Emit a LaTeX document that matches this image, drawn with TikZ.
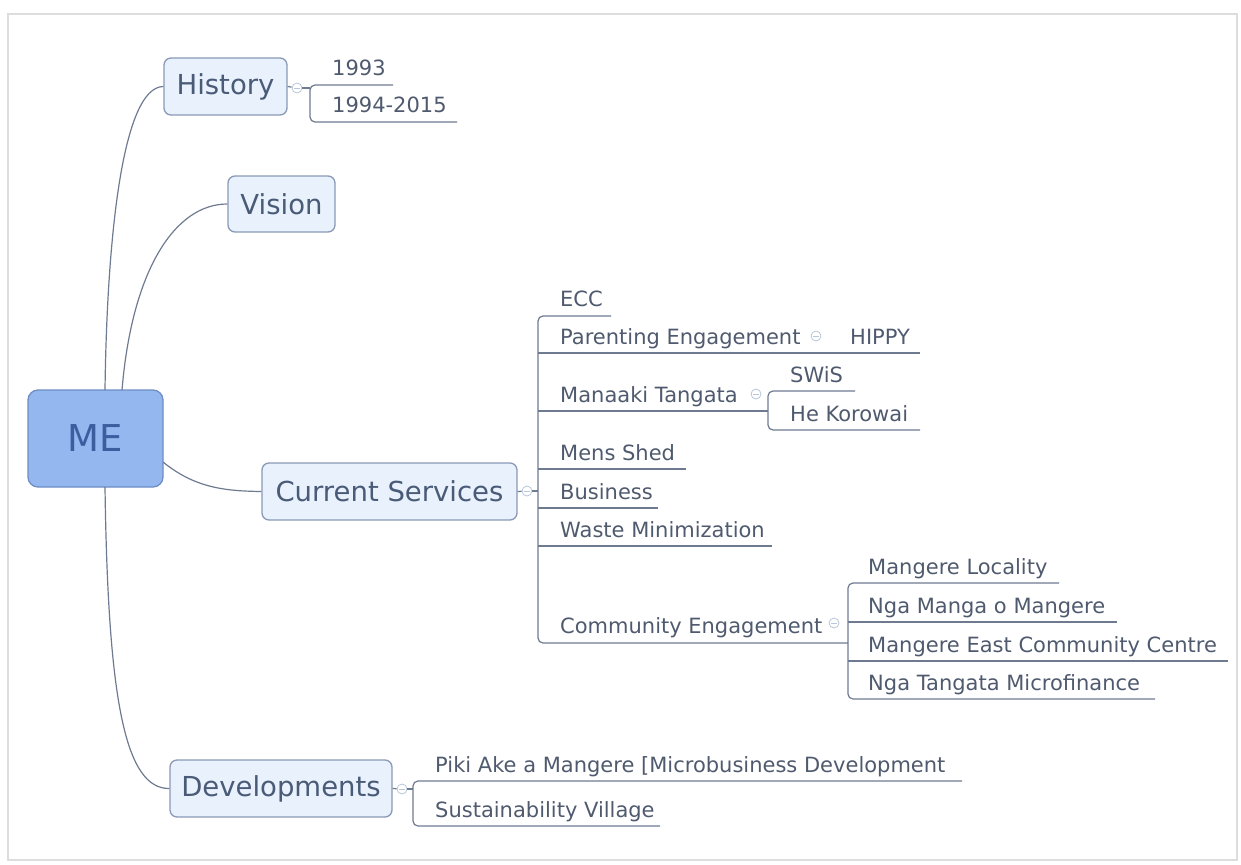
\documentclass[tikz,border=0pt]{standalone}
\usepackage{fontspec}
\setmainfont{DejaVu Sans}
\definecolor{txt}{HTML}{4F5A6E}
\definecolor{maintxt}{HTML}{4A5B78}
\definecolor{metxt}{HTML}{3D5E9E}
\definecolor{boxfill}{HTML}{E8F1FC}
\definecolor{boxdraw}{HTML}{8A99B6}
\definecolor{mefill}{HTML}{94B7F0}
\definecolor{medraw}{HTML}{6F8DC4}
\definecolor{linec}{HTML}{6E7A90}
\definecolor{foldc}{HTML}{B8C6DA}
\definecolor{framec}{HTML}{DDDDDD}
\begin{document}
\begin{tikzpicture}[x=1pt,y=-1pt,
  mainbox/.style={draw=boxdraw, fill=boxfill, line width=1.3pt, rounded corners=7pt,
    text=maintxt, font=\fontsize{27.5}{33}\selectfont, inner sep=0pt},
  mebox/.style={draw=medraw, fill=mefill, line width=1.3pt, rounded corners=10pt,
    text=metxt, font=\fontsize{37}{44}\selectfont, inner sep=0pt,
    minimum width=135pt, minimum height=97pt},
  leaf/.style={anchor=base west, text=txt, font=\fontsize{21}{25}\selectfont, inner sep=0pt},
  link/.style={draw=linec, line width=1.2pt},
  spine/.style={link, rounded corners=5pt},
  fold/.style={circle, draw=foldc, line width=0.8pt, minimum size=10pt, inner sep=0pt, fill=white,
    path picture={\draw[foldc, line width=0.8pt] ([xshift=-3pt]path picture bounding box.center) -- ([xshift=3pt]path picture bounding box.center);}}
]
\useasboundingbox (0,0) rectangle (1241,864);
\draw[framec, line width=1.5pt] (8,14) rectangle (1237,860);

% main nodes
\node[mebox] (me) at (95.5,438.5) {ME};
\node[mainbox, minimum width=123pt, minimum height=57pt] (history) at (225.5,86.5) {History};
\node[mainbox, minimum width=107pt, minimum height=56pt] (vision) at (281.5,204) {Vision};
\node[mainbox, minimum width=255pt, minimum height=57pt] (current) at (389.5,491.5) {Current Services};
\node[mainbox, minimum width=222pt, minimum height=57pt] (dev) at (281,788.5) {Developments};

% connectors from ME
\coordinate (meH) at (105,390);
\coordinate (meV) at (122,390);
\coordinate (meC) at (163,462);
\coordinate (meD) at (105,487);
\draw[link] (meH) .. controls (107,240) and (122,87) .. (history.west);
\draw[link] (meV) .. controls (132,270) and (175,204) .. (vision.west);
\draw[link] (meC) .. controls (195,488) and (225,491) .. (current.west);
\draw[link] (meD) .. controls (108,700) and (125,789) .. (dev.west);

% History branch
\node[fold] (fh) at (297,88) {};
\coordinate (sh) at (310,88);
\draw[link] (history.east) -- (fh);
\draw[link] (fh) -- (sh);
\draw[spine] (393,85) -- (310,85) -- (310,122) -- (457,122);
\node[leaf] (y1993) at (332,76) {1993};
\node[leaf] (y1994) at (332,113) {1994-2015};

% Current Services branch
\node[fold] (fc) at (527,491) {};
\coordinate (sc) at (538,491);
\draw[link] (current.east) -- (fc);
\draw[link] (fc) -- (sc);
\draw[spine] (611,316) -- (538,316) -- (538,643) -- (848,643);
\draw[link] (538,353) -- (920,353);
\draw[link] (538,411) -- (768,411);
\draw[link] (538,469) -- (686,469);
\draw[link] (538,508) -- (658,508);
\draw[link] (538,546) -- (772,546);
\node[leaf] (ecc) at (560,306) {ECC};
\node[leaf] (parent) at (560,344) {Parenting Engagement};
\node[fold] (fp) at (816,336) {};
\node[leaf] (hippy) at (850,344) {HIPPY};
\node[leaf] (manaaki) at (560,402) {Manaaki Tangata};
\node[fold] (fm) at (756,394) {};
\draw[spine] (855,391) -- (768,391) -- (768,430) -- (920,430);
\node[leaf] (swis) at (790,382) {SWiS};
\node[leaf] (hek) at (790,421) {He Korowai};
\node[leaf] (mens) at (560,460) {Mens Shed};
\node[leaf] (bus) at (560,499) {Business};
\node[leaf] (waste) at (560,537) {Waste Minimization};
\node[leaf] (ce) at (560,633) {Community Engagement};
\node[fold] (fce) at (834,623) {};
\draw[spine] (1059,583) -- (848,583) -- (848,699) -- (1155,699);
\draw[link] (848,622) -- (1117,622);
\draw[link] (848,661) -- (1228,661);
\node[leaf] (ml) at (868,574) {Mangere Locality};
\node[leaf] (nm) at (868,613) {Nga Manga o Mangere};
\node[leaf] (mec) at (868,652) {Mangere East Community Centre};
\node[leaf] (nt) at (868,690) {Nga Tangata Microfinance};

% Developments branch
\node[fold] (fd) at (402,789) {};
\coordinate (sd) at (413,789);
\draw[link] (dev.east) -- (fd);
\draw[link] (fd) -- (sd);
\draw[spine] (962,781) -- (413,781) -- (413,826) -- (660,826);
\node[leaf] (piki) at (435,772) {Piki Ake a Mangere [Microbusiness Development};
\node[leaf] (sv) at (435,817) {Sustainability Village};
\end{tikzpicture}
\end{document}
